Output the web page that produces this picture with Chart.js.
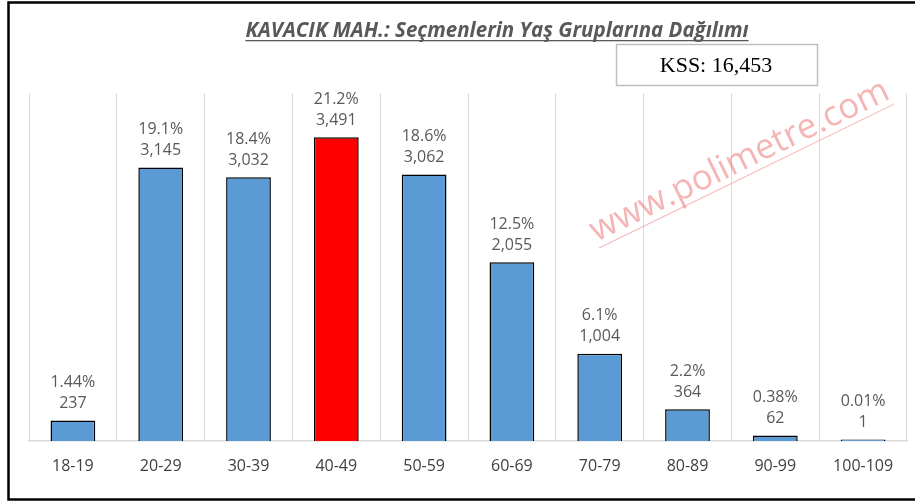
<!DOCTYPE html>
<html>
<head>
<meta charset="utf-8">
<script src="https://cdn.jsdelivr.net/npm/chart.js@4/dist/chart.umd.min.js"></script>
<style>
  html, body { margin: 0; padding: 0; background: #fff; }
  #wrap { width: 915px; height: 502px; }
</style>
</head>
<body>
<div id="wrap"><canvas id="yasChart" width="915" height="502"></canvas></div>
<script>
// Yaş grupları ve seçmen sayıları
const yasGruplari = ['18-19', '20-29', '30-39', '40-49', '50-59', '60-69', '70-79', '80-89', '90-99', '100-109'];
const secmenSayilari = [237, 3145, 3032, 3491, 3062, 2055, 1004, 364, 62, 1];
const yuzdeEtiketleri = ['1.44%', '19.1%', '18.4%', '21.2%', '18.6%', '12.5%', '6.1%', '2.2%', '0.38%', '0.01%'];
const yEkseniMax = 4000;

const baslik = 'KAVACIK MAH.: Seçmenlerin Yaş Gruplarına Dağılımı';
const kssMetni = 'KSS: 16,453';
const filigran = 'www.polimetre.com';

const MAVI = '#5B9BD5';
const KIRMIZI = '#FF0000';
const GRI_YAZI = '#595959';
const FONT = '"Open Sans", Lato, sans-serif';

// en yüksek grup kırmızı
const enBuyuk = Math.max(...secmenSayilari);
const barRenkleri = secmenSayilari.map(v => v === enBuyuk ? KIRMIZI : MAVI);

// Çerçeve, başlık, KSS kutusu ve filigran
const susPlugin = {
    id: 'sus',
    afterDraw(chart) {
        const ctx = chart.ctx;
        ctx.save();

        // dış çerçeve
        ctx.strokeStyle = '#000';
        ctx.lineWidth = 2.5;
        ctx.strokeRect(8.5, 2.5, 920, 497);

        // başlık
        ctx.font = 'italic bold 20.5px ' + FONT;
        ctx.fillStyle = GRI_YAZI;
        ctx.textAlign = 'center';
        ctx.textBaseline = 'alphabetic';
        const bx = 497, by = 37;
        ctx.fillText(baslik, bx, by);
        const w = ctx.measureText(baslik).width;
        ctx.fillRect(bx - w / 2, by + 3, w, 1.3);

        // KSS kutusu
        ctx.strokeStyle = '#bfbfbf';
        ctx.lineWidth = 1.5;
        ctx.strokeRect(616.5, 44.5, 201, 41);
        ctx.font = '22px "Liberation Serif", "Times New Roman", serif';
        ctx.fillStyle = '#000';
        ctx.textBaseline = 'middle';
        ctx.fillText(kssMetni, 716, 66);

        // filigran
        ctx.translate(740, 162);
        ctx.rotate(-26 * Math.PI / 180);
        ctx.font = '35px ' + FONT;
        ctx.fillStyle = 'rgba(238, 120, 120, 0.55)';
        ctx.textBaseline = 'alphabetic';
        ctx.fillText(filigran, 0, 9);
        const fw = ctx.measureText(filigran).width;
        ctx.fillRect(-fw / 2, 15, fw, 1);
        ctx.restore();
    },
    afterDatasetsDraw(chart) {
        // bar üstü etiketler: yüzde ve sayı
        const ctx = chart.ctx;
        const meta = chart.getDatasetMeta(0);
        ctx.save();
        ctx.font = '16px ' + FONT;
        ctx.fillStyle = GRI_YAZI;
        ctx.textAlign = 'center';
        ctx.textBaseline = 'middle';
        meta.data.forEach((bar, i) => {
            ctx.fillText(secmenSayilari[i].toLocaleString('en-US'), bar.x, bar.y - 17);
            ctx.fillText(yuzdeEtiketleri[i], bar.x, bar.y - 38);
        });
        ctx.restore();
    }
};

new Chart(document.getElementById('yasChart'), {
    type: 'bar',
    data: {
        labels: yasGruplari,
        datasets: [{
            data: secmenSayilari,
            backgroundColor: barRenkleri,
            borderColor: '#000',
            borderWidth: 1.5,
            minBarLength: 1.5,
            categoryPercentage: 1,
            barPercentage: 0.51
        }]
    },
    options: {
        responsive: false,
        animation: false,
        devicePixelRatio: 1,
        layout: { padding: { left: 29, right: 8, top: 93, bottom: 0 } },
        plugins: {
            legend: { display: false },
            tooltip: { enabled: false }
        },
        scales: {
            x: {
                grid: { color: '#d9d9d9', lineWidth: 1, drawTicks: false, offset: true },
                border: { display: true, color: '#d9d9d9', width: 1.5 },
                ticks: { color: '#404040', font: { family: FONT, size: 16 }, padding: 16 },
                afterFit: (s) => { s.height = 61; }
            },
            y: {
                display: false,
                min: 0,
                max: yEkseniMax
            }
        }
    },
    plugins: [susPlugin]
});
</script>
</body>
</html>
